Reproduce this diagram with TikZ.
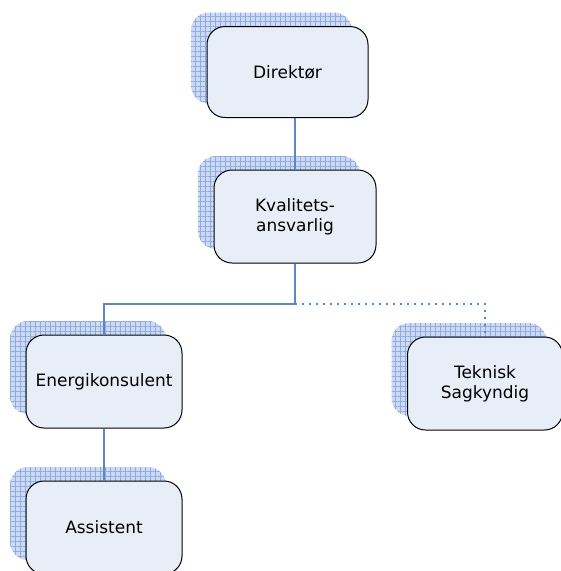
\documentclass[tikz,border=0pt]{standalone}
\usepackage{fontspec}
\setmainfont{DejaVu Sans}
\usetikzlibrary{patterns.meta}
\definecolor{boxfill}{HTML}{E8EEF8}
\definecolor{shadowbg}{HTML}{CCDAF3}
\definecolor{shadowgrid}{HTML}{8FABDF}
\definecolor{linkblue}{HTML}{5B86C8}
\tikzset{
  orgbox/.style={draw=black, line width=1pt, fill=boxfill, rounded corners=18pt,
    minimum width=160pt, minimum height=92pt, align=center,
    font=\fontsize{17}{20}\selectfont,
    preaction={draw=none, fill=shadowbg, transform canvas={shift={(-16pt,14pt)}}},
    preaction={draw=none, pattern={Hatch[angle=0, distance=5pt, line width=0.8pt]},
      pattern color=shadowgrid, transform canvas={shift={(-16pt,14pt)}}}},
  link/.style={draw=linkblue, line width=1.4pt},
  dotlink/.style={link, dash pattern=on 2pt off 5pt}
}
\begin{document}
\begin{tikzpicture}[x=1pt, y=-1pt]
  \useasboundingbox (0,0) rectangle (561,571);
  \node (dir) [orgbox, minimum width=161pt, minimum height=91pt] at (287.5,72) {Direktør};
  \node (kval) [orgbox, minimum width=162pt, minimum height=93pt] at (295,216.5) {Kvalitets-\\ansvarlig};
  \node (energi) [orgbox, minimum width=156pt, minimum height=93pt] at (104,381.5) {Energikonsulent};
  \node (teknisk) [orgbox, minimum width=155pt, minimum height=93pt] at (485,383.5) {Teknisk\\Sagkyndig};
  \node (assist) [orgbox, minimum width=156pt, minimum height=93pt] at (104,527.5) {Assistent};
  \coordinate (fork) at (295,304);
  \draw [link] (dir.south -| kval.north) -- (kval.north);
  \draw [link] (kval.south) -- (fork) -| (energi.north);
  \draw [dotlink] (fork) -| (teknisk.north);
  \draw [link] (energi.south) -- (assist.north);
\end{tikzpicture}
\end{document}
